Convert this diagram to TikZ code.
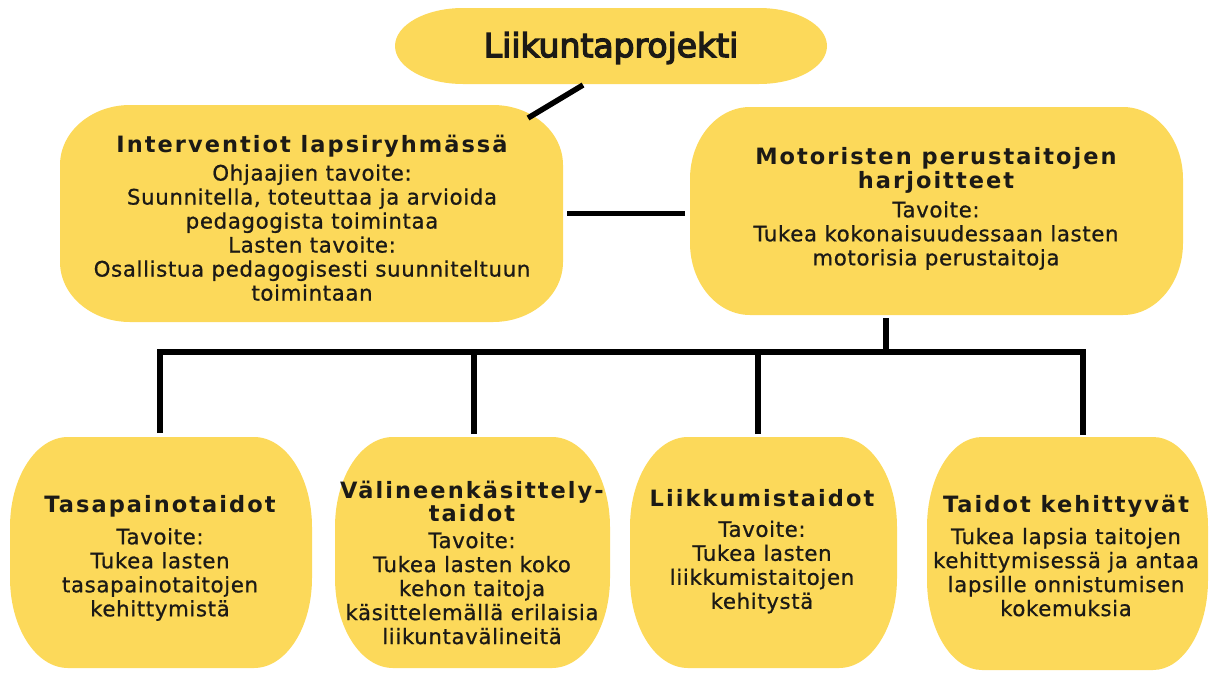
\documentclass[tikz,border=0pt]{standalone}
\usepackage{fontspec}
\setmainfont{DejaVu Sans}
\newfontfamily\headfont{DejaVu Sans}[LetterSpace=9]
\newfontfamily\bodyfont{DejaVu Sans}[LetterSpace=3,FakeBold=0.8]
\newfontfamily\titlefont{DejaVu Sans}[FakeBold=4]
\usetikzlibrary{backgrounds,calc}
\definecolor{boxyellow}{RGB}{252,217,90}
\definecolor{ink}{RGB}{28,26,22}
\newcommand\hd{\headfont\bfseries\fontsize{22.5}{25}\selectfont}
\newcommand\eboxfill[3]{%
  \fill[boxyellow] ([xshift=#2]#1.north west) -- ([xshift=-#2]#1.north east)
    arc[start angle=90,end angle=0,x radius=#2,y radius=#3]
    -- ([yshift=#3]#1.south east)
    arc[start angle=0,end angle=-90,x radius=#2,y radius=#3]
    -- ([xshift=#2]#1.south west)
    arc[start angle=270,end angle=180,x radius=#2,y radius=#3]
    -- ([yshift=-#3]#1.north west)
    arc[start angle=180,end angle=90,x radius=#2,y radius=#3] -- cycle;}
\begin{document}
\begin{tikzpicture}[x=1pt,y=-1pt,
  box/.style={rectangle, inner sep=0pt, outer sep=0pt, draw=none},
  txt/.style={align=center, inner sep=0pt, text=ink, font=\bodyfont\fontsize{21.3}{24}\selectfont},
  conn/.style={draw=black, line width=5.5pt}]
\useasboundingbox (0,0) rectangle (1210,675);

% shapes
\node[box, minimum width=432pt, minimum height=76pt] (top) at (611,46) {};
\node[box, minimum width=503pt, minimum height=217pt] (L) at (311.5,213.5) {};
\node[box, minimum width=493pt, minimum height=208pt] (R) at (936.5,211) {};
\node[box, minimum width=302pt, minimum height=231pt] (B1) at (161,552.5) {};
\node[box, minimum width=275pt, minimum height=231pt] (B2) at (472.5,552.5) {};
\node[box, minimum width=267pt, minimum height=231pt] (B3) at (763.5,552.5) {};
\node[box, minimum width=281pt, minimum height=233pt] (B4) at (1067.5,553.5) {};

\begin{scope}[on background layer]
  \eboxfill{top}{68pt}{38pt}
  \eboxfill{L}{70pt}{60pt}
  \eboxfill{R}{60pt}{72pt}
  \eboxfill{B1}{58pt}{90pt}
  \eboxfill{B2}{58pt}{90pt}
  \eboxfill{B3}{58pt}{90pt}
  \eboxfill{B4}{55pt}{90pt}
\end{scope}

% texts
\node[txt, font=\titlefont\fontsize{33}{40}\selectfont] (topT) at (611,48) {Liikuntaprojekti};
\node[txt] (LT) at (312,218) {{\hd Interventiot lapsiryhmässä}\\[4pt]%
Ohjaajien tavoite:\\Suunnitella, toteuttaa ja arvioida\\pedagogista toimintaa\\%
Lasten tavoite:\\Osallistua pedagogisesti suunniteltuun\\toimintaan};
\node[txt] (RT) at (936,208.5) {{\hd Motoristen perustaitojen}\\[0pt]{\hd harjoitteet}\\[5pt]%
Tavoite:\\Tukea kokonaisuudessaan lasten\\motorisia perustaitoja};
\node[txt] (B1T) at (160,558) {{\hd Tasapainotaidot}\\[8pt]%
Tavoite:\\Tukea lasten\\tasapainotaitojen\\kehittymistä};
\node[txt] (B2T) at (472,562.5) {{\hd Välineenkäsittely-}\\[-1pt]{\hd taidot}\\[3pt]%
Tavoite:\\Tukea lasten koko\\kehon taitoja\\käsittelemällä erilaisia\\liikuntavälineitä};
\node[txt] (B3T) at (762,551.5) {{\hd Liikkumistaidot}\\[6pt]%
Tavoite:\\Tukea lasten\\liikkumistaitojen\\kehitystä};
\node[txt] (B4T) at (1066,555.5) {{\hd Taidot kehittyvät}\\[8pt]%
Tukea lapsia taitojen\\kehittymisessä ja antaa\\lapsille onnistumisen\\kokemuksia};

% connectors
\coordinate (busL) at (160,352);
\coordinate (busR) at (1083,352);
\draw[conn] ([xshift=-28pt,yshift=-1pt]top.south) -- ([xshift=-35pt,yshift=-13pt]L.north east);
\draw[conn] ([xshift=4pt]L.east) -- ([xshift=-5pt]L.east -| R.west);
\draw[conn] ([xshift=-50.5pt,yshift=-3pt]R.south) -- ([xshift=-50.5pt]R.south |- busL);
\draw[conn] ([yshift=4pt]B1.north -| busL) -- (busL) -- (busR) -- ([yshift=2pt]B4.north -| busR);
\draw[conn] ([xshift=1.5pt,yshift=3pt]B2.north) -- ([xshift=1.5pt]B2.north |- busL);
\draw[conn] ([xshift=-5.5pt,yshift=3pt]B3.north) -- ([xshift=-5.5pt]B3.north |- busL);
\end{tikzpicture}
\end{document}
